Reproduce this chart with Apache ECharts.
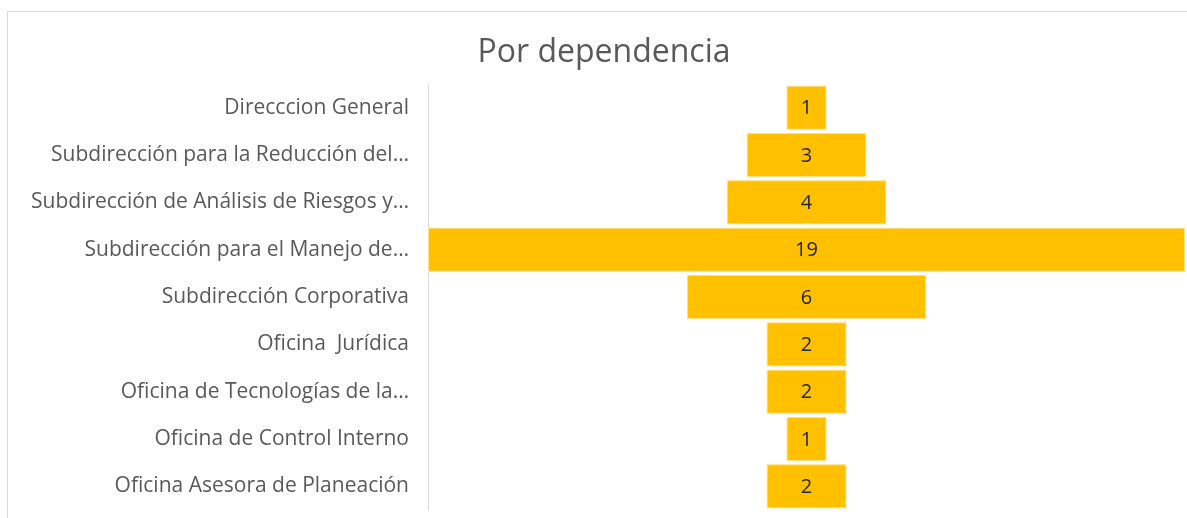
<!DOCTYPE html>
<html>
<head>
<meta charset="utf-8">
<script src="https://cdn.jsdelivr.net/npm/echarts@6/dist/echarts.min.js"></script>
<style>
html,body{margin:0;padding:0;background:#fff;}
#chart{width:1187px;height:518px;}
</style>
</head>
<body>
<div id="chart"></div>
<script>
// Dependencies, top to bottom
const categories = [
  'Direcccion General',
  'Subdirección para la Reducción del…',
  'Subdirección de Análisis de Riesgos y…',
  'Subdirección para el Manejo de…',
  'Subdirección Corporativa',
  'Oficina  Jurídica',
  'Oficina de Tecnologías de la…',
  'Oficina de Control Interno',
  'Oficina Asesora de Planeación'
];
const values = [1, 3, 4, 19, 6, 2, 2, 1, 2];

const maxValue = Math.max(...values);
// Invisible lead-in so each bar sits centred on the widest one
const offsets = values.map(v => (maxValue - v) / 2);

const FONT = 'Open Sans';

const chart = echarts.init(document.getElementById('chart'));
chart.setOption({
  animation: false,
  backgroundColor: '#fff',
  title: {
    text: 'Por dependencia',
    left: 599,
    textAlign: 'center',
    top: 32,
    textStyle: { fontFamily: FONT, fontSize: 32, fontWeight: 'normal', color: '#595959' }
  },
  graphic: [{
    type: 'rect',
    shape: { x: 7.5, y: 11.5, width: 1200, height: 520 },
    style: { fill: 'none', stroke: '#d9d9d9', lineWidth: 1 },
    silent: true
  }],
  grid: { left: 428, right: 2, top: 84, bottom: 8, containLabel: false },
  xAxis: {
    type: 'value', min: 0, max: maxValue,
    show: false
  },
  yAxis: {
    type: 'category',
    data: categories,
    inverse: true,
    axisLine: { show: true, lineStyle: { color: '#d9d9d9', width: 1 } },
    axisTick: { show: false },
    axisLabel: { margin: 19, fontFamily: FONT, fontSize: 21, color: '#595959', padding: [6, 0, 0, 0] }
  },
  series: [
    {
      type: 'bar', stack: 'f', data: offsets,
      itemStyle: { color: 'transparent' },
      barCategoryGap: '7%', silent: true
    },
    {
      type: 'bar', stack: 'f', data: values,
      barCategoryGap: '7%',
      itemStyle: { color: '#FFC000', borderColor: '#FFE08A', borderWidth: 1 },
      label: {
        show: true, position: 'inside', offset: [0, 1],
        fontFamily: FONT, fontSize: 20, color: '#262626'
      }
    }
  ]
});
</script>
</body>
</html>
